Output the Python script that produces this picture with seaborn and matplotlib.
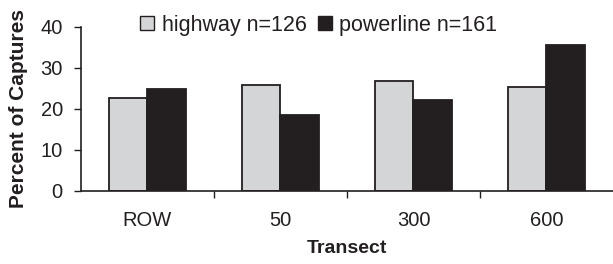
import matplotlib
matplotlib.use("Agg")
import matplotlib.pyplot as plt
import seaborn as sns
import pandas as pd
from matplotlib.patches import Patch

categories = ["ROW", "50", "300", "600"]
highway = [22.7, 25.8, 26.7, 25.4]
powerline = [24.9, 18.5, 22.1, 35.5]
series_names = ["highway n=126", "powerline n=161"]
yticks = [0, 10, 20, 30, 40]

df = pd.DataFrame({
    "Transect": categories * 2,
    "Percent": highway + powerline,
    "Series": [series_names[0]] * 4 + [series_names[1]] * 4,
})

sns.set_style("white")
plt.rcParams["font.family"] = ["Liberation Sans", "DejaVu Sans"]

fig = plt.figure(figsize=(6.13, 2.64), dpi=100)
ax = fig.add_axes([0.132, 0.278, 0.868, 0.62])

colors = {series_names[0]: "#d4d5d7", series_names[1]: "#231f20"}
sns.barplot(data=df, x="Transect", y="Percent", hue="Series", order=categories,
            hue_order=series_names, palette=colors, width=0.58, gap=0,
            edgecolor="#231f20", linewidth=1.3, ax=ax, legend=False, saturation=1)

ax.set_ylim(0, 40)
ax.set_xlim(-0.5, 3.5)
ax.set_yticks(yticks)
ax.tick_params(axis="y", which="major", direction="out", length=5, width=1,
               color="#231f20", labelsize=14.5, pad=8, left=True, labelcolor="#231f20")
ax.set_xticks(range(len(categories)))
ax.set_xticklabels(categories)
ax.tick_params(axis="x", which="major", length=0, labelsize=14.5, pad=15, labelcolor="#231f20")
ax.set_xticks([0.5, 1.5, 2.5], minor=True)
ax.tick_params(axis="x", which="minor", direction="out", length=5, width=1,
               color="#231f20", bottom=True)

for s in ["top", "right"]:
    ax.spines[s].set_visible(False)
for s in ["left", "bottom"]:
    ax.spines[s].set_color("#231f20")
    ax.spines[s].set_linewidth(1.2)

ax.set_ylabel("Percent of Captures", fontsize=15, fontweight="bold", color="#231f20")
ax.set_xlabel("Transect", fontsize=14, fontweight="bold", color="#231f20", labelpad=7)
ax.yaxis.set_label_coords(-0.10, 0.5)

handles = [Patch(facecolor=colors[n], edgecolor="#231f20", linewidth=1.0) for n in series_names]
fig.legend(handles, series_names, loc="center", bbox_to_anchor=(0.52, 0.905),
           ncol=2, frameon=False, fontsize=15.5, handlelength=0.65, handleheight=0.65,
           handletextpad=0.35, columnspacing=0.5, borderaxespad=0, labelcolor="#231f20")

fig.savefig("out.png", dpi=100)
